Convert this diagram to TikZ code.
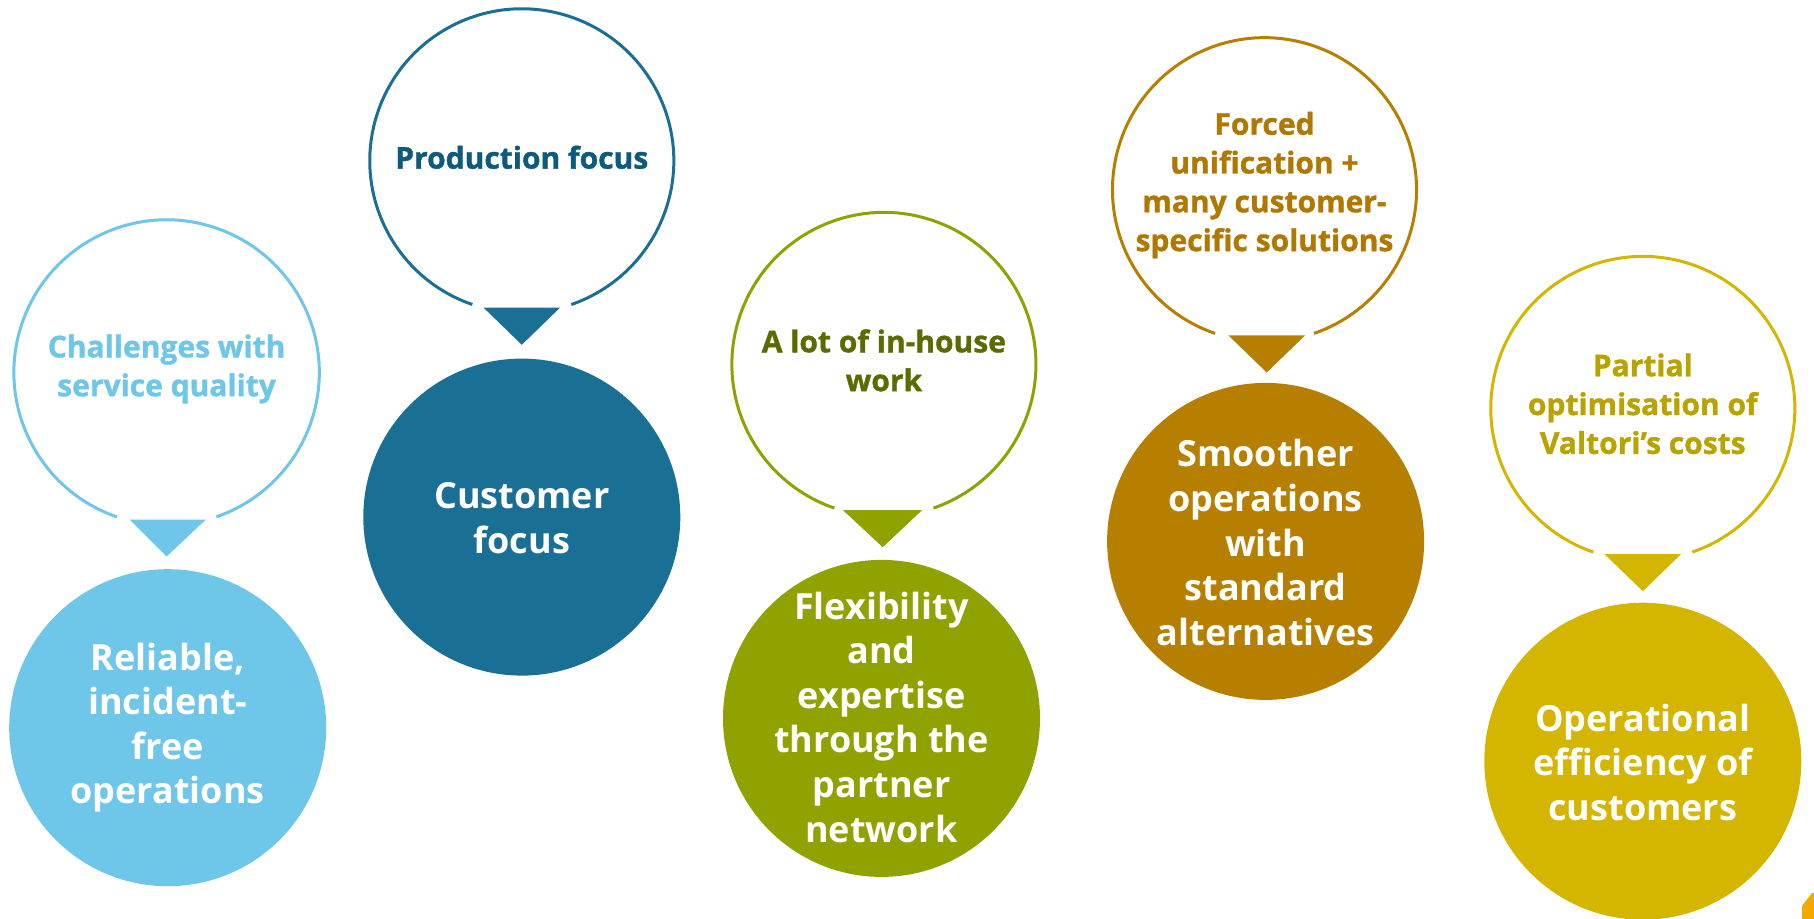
\documentclass[tikz,border=0pt]{standalone}
\usepackage{fontspec}
\setmainfont{Open Sans}
\newfontfamily\heavyfont[BoldFeatures={FakeBold=1.2}]{Open Sans}
\definecolor{cA}{HTML}{6EC6E8}
\definecolor{cAt}{HTML}{6EC6E8}
\definecolor{cB}{HTML}{1A7094}
\definecolor{cBt}{HTML}{0D5A7A}
\definecolor{cC}{HTML}{8FA200}
\definecolor{cCt}{HTML}{5B6B00}
\definecolor{cD}{HTML}{B67F00}
\definecolor{cDt}{HTML}{B07800}
\definecolor{cE}{HTML}{D4B500}
\definecolor{cEt}{HTML}{B8A300}
\definecolor{cOr}{HTML}{F5A800}
\tikzset{
  filledc/.style={circle, minimum size=158.5pt, inner sep=0pt, fill=#1},
  intext/.style={align=center, text=white, font=\bfseries\fontsize{18}{22.3}\selectfont},
  outtext/.style={align=center, text=#1, font=\heavyfont\bfseries\fontsize{15}{19.4}\selectfont},
  ring/.style={draw=#1, line width=1.5pt},
  pointer/.style={fill=#1}
}
\begin{document}
\begin{tikzpicture}[x=0.5pt,y=-0.5pt]
\useasboundingbox (0,0) rectangle (1814,919);
% column 1
\coordinate (o1) at (166.6,372.5);
\draw[ring=cA] ([shift={(109:152.7)}]o1) arc[start angle=109, end angle=431, radius=152.7];
\node[outtext=cAt] (t1) at (166.6,369) {Challenges with\\service quality};
\fill[pointer=cA] (129.6,519.5) -- (205.9,519.5) -- (166.6,556.5) -- cycle;
\node[filledc=cA] (f1) at (167.7,727.7) {};
\node[intext] (g1) at (f1) {Reliable,\\incident-\\free\\operations};
% column 2
\coordinate (o2) at (521.8,160.8);
\draw[ring=cB] ([shift={(109:152)}]o2) arc[start angle=109, end angle=431, radius=152];
\node[outtext=cBt] (t2) at (521.8,157.3) {Production focus};
\fill[pointer=cB] (483.6,307.7) -- (560,307.7) -- (521.8,344.8) -- cycle;
\node[filledc=cB] (f2) at (521.8,517.1) {};
\node[intext] (g2) at (521.8,518) {Customer\\focus};
% column 3
\coordinate (o3) at (883.9,364.4);
\draw[ring=cC] ([shift={(109:152)}]o3) arc[start angle=109, end angle=431, radius=152];
\node[outtext=cCt] (t3) at (883.9,360.4) {A lot of in-house\\work};
\fill[pointer=cC] (843,510.2) -- (922,510.2) -- (882.7,547.2) -- cycle;
\node[filledc=cC] (f3) at (881.5,718.4) {};
\node[intext] (g3) at (881.5,717) {Flexibility\\and\\expertise\\through the\\partner\\network};
% column 4
\coordinate (o4) at (1264.5,189.7);
\draw[ring=cD] ([shift={(109:152)}]o4) arc[start angle=109, end angle=431, radius=152];
\node[outtext=cDt] (t4) at (1264.5,185.1) {Forced\\unification +\\many customer-\\specific solutions};
\fill[pointer=cD] (1228.5,335.5) -- (1305,335.5) -- (1266.7,372.5) -- cycle;
\node[filledc=cD] (f4) at (1265.6,541.4) {};
\node[intext] (g4) at (1265.6,542.6) {Smoother\\operations\\with\\standard\\alternatives};
% column 5
\coordinate (o5) at (1642.8,408.4);
\draw[ring=cE] ([shift={(109:152)}]o5) arc[start angle=109, end angle=431, radius=152];
\node[outtext=cEt] (t5) at (1642.8,403.8) {Partial\\optimisation of\\Valtori’s costs};
\fill[pointer=cE] (1604.6,554.2) -- (1681,554.2) -- (1642.8,591.2) -- cycle;
\node[filledc=cE] (f5) at (1642.8,761.2) {};
\node[intext] (g5) at (1642.8,762.4) {Operational\\efficiency of\\customers};
% corner
\fill[cOr] (1802,919) -- (1802,906) -- (1812,893) -- (1814,893) -- (1814,919) -- cycle;
\end{tikzpicture}
\end{document}
